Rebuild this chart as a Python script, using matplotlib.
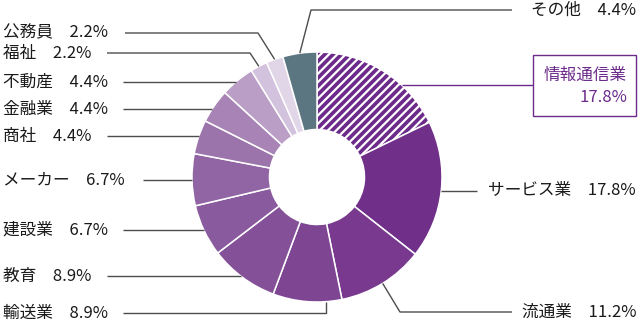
import numpy as np
import matplotlib
matplotlib.use('Agg')
import matplotlib.pyplot as plt
from matplotlib.patches import Rectangle

plt.rcParams['font.family'] = ['Noto Sans CJK JP', 'DejaVu Sans']
plt.rcParams['hatch.linewidth'] = 1.6

# share by industry (%), clockwise from 12 o'clock
industries = ['情報通信業', 'サービス業', '流通業', '輸送業', '教育', '建設業', 'メーカー',
              '商社', '金融業', '不動産', '福祉', '公務員', 'その他']
shares = [17.8, 17.8, 11.2, 8.9, 8.9, 6.7, 6.7, 4.4, 4.4, 4.4, 2.2, 2.2, 4.4]
colors = ['#6c2b8a', '#70308a', '#78398f', '#7e4593', '#845198', '#8a5a9e', '#9164a4',
          '#9b74ab', '#a784b5', '#ba9ec6', '#d3c2dd', '#e1d6e8', '#5c7681']

# label layout: side, text y, start of leader line, elbow x (None = straight)
label_side = ['box', 'R', 'R', 'L', 'L', 'L', 'L', 'L', 'L', 'L', 'L', 'L', 'R']
label_y = [85, 191, 312, 313, 276, 230, 180, 136, 109, 82, 53, 33, 10]
line_x0 = [533, 477, 512, 123, 107, 123, 143, 107, 123, 123, 107, 125, 512]
elbow_x = [None, None, 400, 326, None, None, None, None, None, None, 250, 258, 311]
# leader ends with a vertical tick instead of running to the slice middle
vertical_end = [False, False, False, True, False, False, False, False, False, False,
                False, False, False]

cx, cy, R, r_in = 317, 177, 125, 47.5
ink = '#1a1a1a'
line_col = '#4d4d4d'
accent = '#6c2b8a'
fs = 12

fig = plt.figure(figsize=(6.4, 3.25), dpi=100)
ax = fig.add_axes([0, 0, 1, 1])

wedges, _ = ax.pie(shares, colors=colors, center=(cx, cy), radius=R,
                   startangle=-90, counterclock=True,
                   wedgeprops=dict(width=R - r_in, edgecolor='white', linewidth=1.1))
wedges[0].set_hatch('////')

ax.set_xlim(0, 640)
ax.set_ylim(325, 0)
ax.set_aspect('equal')
ax.axis('off')

cum = np.cumsum([0] + shares)
for i, name in enumerate(industries):
    y = label_y[i]
    side = label_side[i]
    mid = np.deg2rad(-90 + 360 * (cum[i] + cum[i + 1]) / 2 / 100)
    ex, ey = cx + R * np.cos(mid), cy + R * np.sin(mid)
    sgn = -1 if side == 'L' else 1
    if elbow_x[i] is None:
        # straight line meeting the ring at the label height
        ex = cx + sgn * np.sqrt(R ** 2 - (y - cy) ** 2)
        xs, ys = [line_x0[i], ex], [y, y]
    else:
        ex2 = elbow_x[i]
        if vertical_end[i]:
            ex = ex2
            ey = cy + np.sqrt(R ** 2 - (ex2 - cx) ** 2)
        xs, ys = [line_x0[i], ex2, ex], [y, y, ey]
    col = accent if side == 'box' else line_col
    ax.plot(xs, ys, color=col, lw=1.0, solid_capstyle='butt')

    text = f'{name}\u3000{shares[i]}%'
    if side == 'L':
        ax.text(3, y, text, fontsize=fs, color=ink, ha='left', va='center')
    elif side == 'R':
        ax.text(636, y, text, fontsize=fs, color=ink, ha='right', va='center')
    else:
        ax.add_patch(Rectangle((533, 55), 103, 61, facecolor='white',
                               edgecolor=accent, lw=1.0))
        ax.text(627, 75, name, fontsize=fs, color=accent, ha='right', va='center')
        ax.text(627, 97, f'{shares[i]}%', fontsize=fs, color=accent,
                ha='right', va='center')

fig.savefig('out.png', dpi=100)
